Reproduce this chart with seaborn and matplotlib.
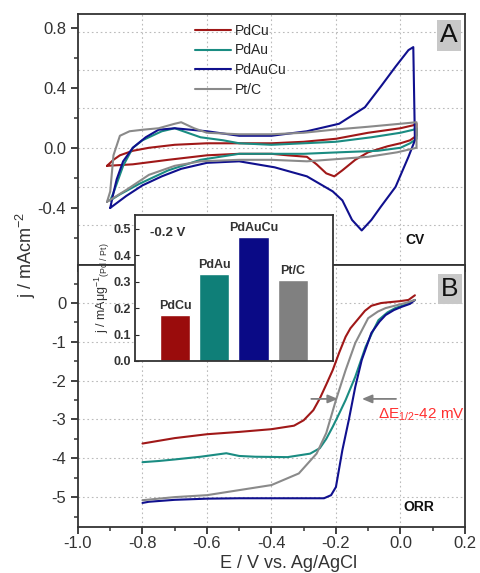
import numpy as np
import pandas as pd
import matplotlib
matplotlib.use('Agg')
import matplotlib.pyplot as plt
import seaborn as sns

# catalysts and colours
catalysts = ['PdCu', 'PdAu', 'PdAuCu', 'Pt/C']
colors = ['#a01818', '#1a8c82', '#10108e', '#8a8a8a']
bar_colors = ['#9a0c0c', '#0f7f78', '#0a0a86', '#808080']

# CV loops (E / V, j / mA cm-2)
cv_pdcu_E = [-0.91, -0.89, -0.87, -0.83, -0.78, -0.70, -0.60, -0.50, -0.40, -0.30, -0.20, -0.10, 0.00, 0.04, 0.05,
             0.05, 0.03, 0.00, -0.04, -0.07, -0.10, -0.14, -0.18, -0.205, -0.23, -0.26, -0.29, -0.35, -0.40, -0.50,
             -0.60, -0.72, -0.83, -0.91]
cv_pdcu_j = [-0.12, -0.08, -0.05, -0.02, 0.00, 0.02, 0.03, 0.03, 0.03, 0.04, 0.06, 0.10, 0.13, 0.15, 0.16,
             0.08, 0.05, 0.03, 0.01, -0.01, -0.03, -0.08, -0.15, -0.19, -0.17, -0.11, -0.06, -0.05, -0.04, -0.04,
             -0.05, -0.08, -0.11, -0.12]

cv_pdau_E = [-0.90, -0.89, -0.86, -0.83, -0.80, -0.74, -0.70, -0.66, -0.62, -0.55, -0.50, -0.40, -0.30, -0.20,
             -0.09, 0.00, 0.04, 0.05, 0.05, 0.03, 0.00, -0.07, -0.19, -0.30, -0.50, -0.62, -0.72, -0.81, -0.87, -0.90]
cv_pdau_j = [-0.35, -0.30, -0.12, 0.00, 0.05, 0.11, 0.13, 0.10, 0.07, 0.05, 0.03, 0.02, 0.03, 0.04,
             0.07, 0.10, 0.12, 0.13, 0.06, 0.03, 0.00, -0.02, -0.03, -0.04, -0.04, -0.08, -0.15, -0.24, -0.31, -0.35]

cv_pdaucu_E = [-0.90, -0.89, -0.88, -0.86, -0.83, -0.79, -0.75, -0.70, -0.65, -0.60, -0.50, -0.40, -0.29, -0.19,
               -0.11, -0.06, -0.015, 0.025, 0.04, 0.045, 0.025, -0.015, -0.06, -0.09, -0.12, -0.15, -0.18, -0.21,
               -0.29, -0.39, -0.50, -0.60, -0.68, -0.74, -0.80, -0.85, -0.90]
cv_pdaucu_j = [-0.40, -0.30, -0.21, -0.09, 0.00, 0.07, 0.12, 0.13, 0.12, 0.11, 0.08, 0.08, 0.11, 0.16,
               0.27, 0.41, 0.54, 0.65, 0.67, 0.05, -0.06, -0.26, -0.39, -0.48, -0.55, -0.48, -0.35, -0.29,
               -0.19, -0.13, -0.09, -0.10, -0.14, -0.19, -0.25, -0.32, -0.40]

cv_ptc_E = [-0.91, -0.90, -0.89, -0.87, -0.84, -0.80, -0.75, -0.70, -0.68, -0.64, -0.60, -0.50, -0.40, -0.30,
            -0.21, -0.10, 0.00, 0.05, 0.05, -0.01, -0.10, -0.29, -0.40, -0.50, -0.62, -0.70, -0.78, -0.85, -0.91]
cv_ptc_j = [-0.36, -0.29, -0.05, 0.08, 0.11, 0.12, 0.13, 0.16, 0.17, 0.13, 0.10, 0.09, 0.09, 0.10,
            0.12, 0.14, 0.16, 0.17, 0.00, -0.03, -0.06, -0.09, -0.08, -0.08, -0.09, -0.12, -0.18, -0.28, -0.36]

# ORR polarisation curves
orr_pdcu_E = [-0.80, -0.70, -0.60, -0.50, -0.40, -0.33, -0.30, -0.27, -0.25, -0.23, -0.21, -0.19, -0.17, -0.155,
              -0.139, -0.11, -0.09, -0.06, -0.037, 0.00, 0.025, 0.045]
orr_pdcu_j = [-3.62, -3.48, -3.38, -3.32, -3.25, -3.16, -3.02, -2.76, -2.46, -2.10, -1.73, -1.28, -0.87, -0.65,
              -0.49, -0.20, -0.07, 0.00, 0.02, 0.05, 0.08, 0.20]

orr_pdau_E = [-0.80, -0.75, -0.70, -0.62, -0.54, -0.50, -0.45, -0.35, -0.28, -0.25, -0.23, -0.21, -0.19, -0.17,
              -0.14, -0.108, -0.085, -0.068, -0.04, -0.016, 0.02, 0.045]
orr_pdau_j = [-4.10, -4.07, -4.03, -3.96, -3.87, -3.94, -3.96, -3.97, -3.88, -3.74, -3.50, -3.19, -2.85, -2.50,
              -1.90, -1.13, -0.72, -0.44, -0.24, -0.13, -0.03, 0.08]

orr_pdaucu_E = [-0.80, -0.78, -0.70, -0.60, -0.50, -0.40, -0.30, -0.237, -0.215, -0.20, -0.18, -0.16, -0.14,
                -0.12, -0.09, -0.065, -0.046, -0.02, 0.003, 0.03, 0.045]
orr_pdaucu_j = [-5.15, -5.12, -5.07, -5.04, -5.03, -5.03, -5.03, -5.03, -4.95, -4.74, -3.79, -3.01, -2.16,
                -1.47, -0.77, -0.48, -0.31, -0.18, -0.10, -0.02, 0.08]

orr_ptc_E = [-0.80, -0.70, -0.60, -0.50, -0.40, -0.315, -0.26, -0.23, -0.20, -0.17, -0.14, -0.10, -0.07,
             -0.046, 0.015, 0.045]
orr_ptc_j = [-5.08, -5.00, -4.95, -4.82, -4.69, -4.39, -3.88, -3.35, -2.50, -1.73, -1.03, -0.39, -0.22,
             -0.13, 0.00, 0.08]

# inset: mass activity at -0.2 V
mass_activity = [0.175, 0.33, 0.47, 0.305]

cv_data = [(cv_pdcu_E, cv_pdcu_j), (cv_pdau_E, cv_pdau_j), (cv_pdaucu_E, cv_pdaucu_j), (cv_ptc_E, cv_ptc_j)]
orr_data = [(orr_pdcu_E, orr_pdcu_j), (orr_pdau_E, orr_pdau_j), (orr_pdaucu_E, orr_pdaucu_j),
            (orr_ptc_E, orr_ptc_j)]

sns.set_style('ticks')
plt.rcParams['font.family'] = ['Liberation Sans', 'DejaVu Sans']
plt.rcParams['mathtext.fontset'] = 'custom'
plt.rcParams['mathtext.rm'] = 'Liberation Sans'
plt.rcParams['mathtext.it'] = 'Liberation Sans'

fig = plt.figure(figsize=(4.8, 5.73), dpi=100)
ax_a = fig.add_axes([0.1625, 0.5375, 0.806, 0.438])
ax_b = fig.add_axes([0.1625, 0.0803, 0.806, 0.4572])

spine_col = '#333333'
grid_kw = dict(color='#bbbbbb', linestyle=(0, (1.5, 2.5)), linewidth=0.8)

# ---- panel A: CV
for (E, j), name, c in zip(cv_data, catalysts, colors):
    sns.lineplot(x=E, y=j, sort=False, estimator=None, color=c, lw=1.5, label=name, ax=ax_a)
ax_a.set_xlim(-1.0, 0.2)
ax_a.set_ylim(-0.78, 0.89)
ax_a.set_yticks([-0.4, 0.0, 0.4, 0.8])
ax_a.set_yticklabels(['-0.4', '0.0', '0.4', '0.8'])
ax_a.set_yticks([-0.6, -0.2, 0.2, 0.6], minor=True)
ax_a.set_xticks([-1.0, -0.8, -0.6, -0.4, -0.2, 0.0, 0.2])
ax_a.set_xticks([-0.9, -0.7, -0.5, -0.3, -0.1, 0.1], minor=True)
ax_a.tick_params(axis='x', which='both', labelbottom=False, direction='out', length=5, color=spine_col, width=1.3)
ax_a.tick_params(axis='x', which='minor', length=3)
for gy in [0.773, 0.52, 0.267, 0.0, -0.26, -0.513]:
    ax_a.axhline(gy, zorder=0, **grid_kw)
for gx in [-0.8, -0.6, -0.4, -0.2, 0.0]:
    ax_a.axvline(gx, zorder=0, **grid_kw)
ax_a.legend(loc='upper left', bbox_to_anchor=(0.28, 0.995), frameon=False, fontsize=10,
            handlelength=2.6, labelspacing=0.42, handletextpad=0.3, borderaxespad=0.2)
ax_a.text(0.845, 0.1, 'CV', transform=ax_a.transAxes, fontsize=10, fontweight='bold', color='#111111',
          va='center')
ax_a.text(0.958, 0.915, 'A', transform=ax_a.transAxes, fontsize=19, ha='center', va='center', color='#111111',
          bbox=dict(boxstyle='square,pad=0.12', fc='#c8c8c8', ec='none'))

# ---- panel B: ORR
for (E, j), name, c in zip(orr_data, catalysts, colors):
    sns.lineplot(x=E, y=j, sort=False, estimator=None, color=c, lw=1.5, ax=ax_b, legend=False)
ax_b.set_xlim(-1.0, 0.2)
ax_b.set_ylim(-5.77, 0.98)
ax_b.set_yticks([-5, -4, -3, -2, -1, 0])
ax_b.set_yticklabels(['-5', '-4', '-3', '-2', '-1', '0'])
ax_b.set_yticks([-5.5, -4.5, -3.5, -2.5, -1.5, -0.5, 0.5], minor=True)
ax_b.set_xticks([-1.0, -0.8, -0.6, -0.4, -0.2, 0.0, 0.2])
ax_b.set_xticklabels(['-1.0', '-0.8', '-0.6', '-0.4', '-0.2', '0.0', '0.2'])
ax_b.set_xticks([-0.9, -0.7, -0.5, -0.3, -0.1, 0.1], minor=True)
for gy in [-5, -4, -3, -2, -1, 0]:
    ax_b.axhline(gy, zorder=0, **grid_kw)
for gx in [-0.8, -0.6, -0.4, -0.2, 0.0]:
    ax_b.axvline(gx, zorder=0, **grid_kw)
ax_b.annotate('', xy=(-0.185, -2.47), xytext=(-0.285, -2.47),
              arrowprops=dict(arrowstyle='-|>,head_length=0.6,head_width=0.25', color='#808080', lw=1.3))
ax_b.annotate('', xy=(-0.128, -2.47), xytext=(-0.005, -2.47),
              arrowprops=dict(arrowstyle='-|>,head_length=0.6,head_width=0.25', color='#808080', lw=1.3))
ax_b.text(-0.068, -2.88, r'$\Delta$E$_{1/2}$-42 mV', color='#ff3030', fontsize=11, va='center')
ax_b.text(0.84, 0.075, 'ORR', transform=ax_b.transAxes, fontsize=10, fontweight='bold', color='#111111',
          va='center')
ax_b.text(0.961, 0.908, 'B', transform=ax_b.transAxes, fontsize=19, ha='center', va='center', color='#111111',
          bbox=dict(boxstyle='square,pad=0.12', fc='#c8c8c8', ec='none'))

for ax in (ax_a, ax_b):
    for s in ax.spines.values():
        s.set_color(spine_col)
        s.set_linewidth(1.3)
    ax.tick_params(axis='y', which='major', direction='out', length=5, width=1.3, color=spine_col,
                   labelsize=12, labelcolor='#333333')
    ax.tick_params(axis='y', which='minor', direction='out', length=3, width=1.1, color=spine_col)
    ax.set_xlabel('')
    ax.set_ylabel('')
ax_b.tick_params(axis='x', which='major', direction='out', length=5, width=1.3, color=spine_col,
                 labelsize=12, labelcolor='#333333', pad=1.5)
ax_b.tick_params(axis='x', which='minor', direction='out', length=3, width=1.1, color=spine_col)

fig.text(0.054, 1 - 255 / 573, r'j / mAcm$^{-2}$', rotation=90, ha='center', va='center', fontsize=13,
         color='#333333')
fig.text(0.602, 0.016, 'E / V vs. Ag/AgCl', ha='center', va='center', fontsize=13, color='#333333')

# ---- inset bar chart
ins = fig.add_axes([0.281, 0.370, 0.4125, 0.2548])
ins.set_facecolor('white')
bar_df = pd.DataFrame({'catalyst': catalysts, 'activity': mass_activity})
sns.barplot(data=bar_df, x='catalyst', y='activity', hue='catalyst', palette=bar_colors, saturation=1,
            width=0.77, legend=False, ax=ins)
ins.set_xlim(-1.02, 4.02)
ins.set_ylim(0, 0.553)
ins.set_xticks([])
ins.set_xlabel('')
ins.set_yticks([0.0, 0.1, 0.2, 0.3, 0.4, 0.5])
ins.set_yticklabels(['0.0', '0.1', '0.2', '0.3', '0.4', '0.5'])
ins.tick_params(axis='y', direction='in', length=3, labelsize=9, labelcolor='#333333', pad=3)
for lab in ins.get_yticklabels():
    lab.set_fontweight('bold')
ins.set_ylabel(r'j / mA$\mu$g$^{-1}$$_{(Pd\ /\ Pt)}$', fontsize=9, color='#333333', labelpad=1)
for s in ins.spines.values():
    s.set_color(spine_col)
    s.set_linewidth(1.3)
for i, (name, v) in enumerate(zip(catalysts, mass_activity)):
    ins.text(i, v + 0.012, name, ha='center', va='bottom', fontsize=9, fontweight='bold', color='#333333')
ins.text(0.076, 0.877, '-0.2 V', transform=ins.transAxes, fontsize=9.5, fontweight='bold', color='#333333',
         va='center')

fig.savefig('out.png', dpi=100)
